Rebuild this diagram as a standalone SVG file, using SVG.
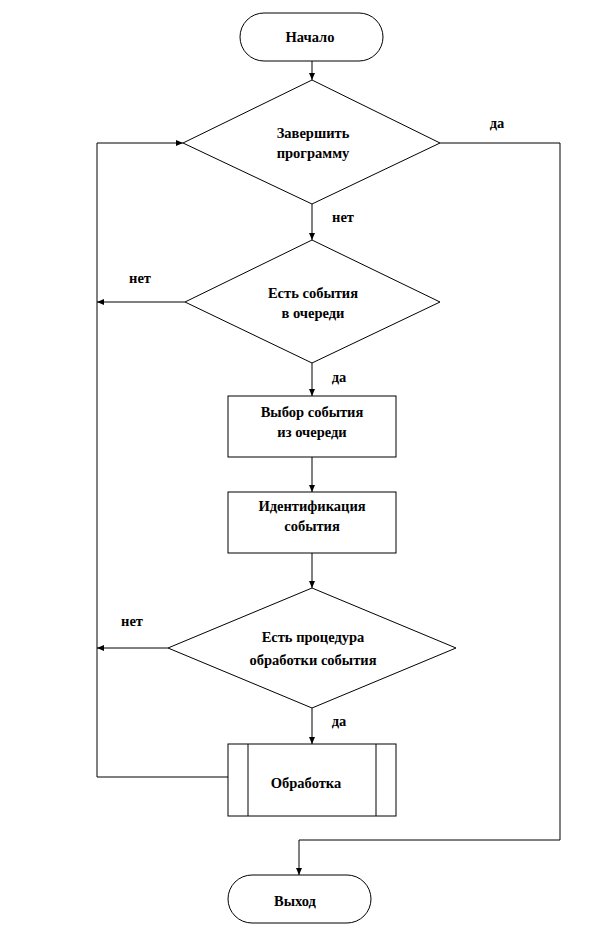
<svg xmlns="http://www.w3.org/2000/svg" width="612" height="936" viewBox="0 0 612 936">
<style>
.s{fill:#fff;stroke:#000;stroke-width:1}
.c{fill:none;stroke:#000;stroke-width:1}
text{font-family:"Liberation Serif","Times New Roman",serif;font-weight:bold;font-size:14.5px;text-anchor:middle;fill:#000}
</style>
<defs>
<marker id="a" markerWidth="8" markerHeight="8" refX="7" refY="4" orient="auto" markerUnits="userSpaceOnUse">
<path d="M0,1 L7,4 L0,7 Z" fill="#000"/>
</marker>
</defs>
<rect width="612" height="936" fill="#fff"/>
<g id="connectors">
<line class="c" x1="312" y1="61" x2="312" y2="80" marker-end="url(#a)"/>
<line class="c" x1="312" y1="204" x2="312" y2="240" marker-end="url(#a)"/>
<line class="c" x1="312" y1="363" x2="312" y2="396" marker-end="url(#a)"/>
<line class="c" x1="312" y1="457" x2="312" y2="492" marker-end="url(#a)"/>
<line class="c" x1="312" y1="553" x2="312" y2="588" marker-end="url(#a)"/>
<line class="c" x1="312" y1="708" x2="312" y2="744" marker-end="url(#a)"/>
<polyline class="c" points="440,143 560,143 560,840 299,840 299,875" marker-end="url(#a)"/>
<polyline class="c" points="228,777 97,777 97,143 183,143" marker-end="url(#a)"/>
<line class="c" x1="185" y1="302" x2="97" y2="302" marker-end="url(#a)"/>
<line class="c" x1="168" y1="648" x2="97" y2="648" marker-end="url(#a)"/>
<text x="497" y="128">да</text>
<text x="343" y="222">нет</text>
<text x="140" y="283">нет</text>
<text x="339" y="382">да</text>
<text x="132" y="626">нет</text>
<text x="339" y="726">да</text>
</g>
<g id="start">
<rect class="s" x="240" y="13" width="143" height="48" rx="24"/>
<text x="310" y="42">Начало</text>
</g>
<g id="d1">
<polygon class="s" points="312,80 440,143 312,204 183,143"/>
<text x="313" y="138">Завершить</text>
<text x="313" y="158">программу</text>
</g>
<g id="d2">
<polygon class="s" points="312,240 440,302 312,363 185,302"/>
<text x="313" y="298">Есть события</text>
<text x="313" y="318">в очереди</text>
</g>
<g id="p1">
<rect class="s" x="228" y="396" width="168" height="61"/>
<text x="312" y="417">Выбор события</text>
<text x="312" y="437">из очереди</text>
</g>
<g id="p2">
<rect class="s" x="228" y="492" width="168" height="61"/>
<text x="312" y="511">Идентификация</text>
<text x="312" y="531">события</text>
</g>
<g id="d3">
<polygon class="s" points="312,588 456,648 312,708 168,648"/>
<text x="313" y="642">Есть процедура</text>
<text x="313" y="665">обработки события</text>
</g>
<g id="proc">
<rect class="s" x="228" y="744" width="168" height="72"/>
<line class="c" x1="248" y1="744" x2="248" y2="816"/>
<line class="c" x1="376" y1="744" x2="376" y2="816"/>
<text x="306" y="788">Обработка</text>
</g>
<g id="end">
<rect class="s" x="228" y="875" width="143" height="48" rx="24"/>
<text x="295" y="906">Выход</text>
</g>
</svg>
